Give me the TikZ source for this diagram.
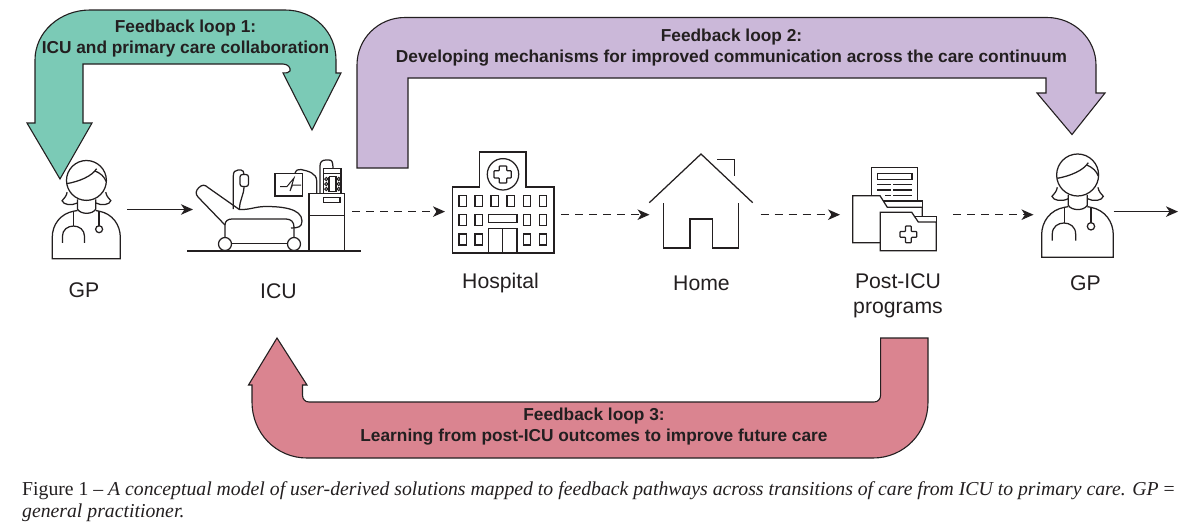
\documentclass[tikz,border=0pt]{standalone}
\usepackage{fontspec}
\setmainfont{Liberation Sans}
\newfontfamily\capfont{Liberation Serif}
\usetikzlibrary{arrows.meta}
\definecolor{ink}{HTML}{231F20}
\definecolor{loopgreen}{HTML}{7BCAB6}
\definecolor{looppurple}{HTML}{CBB8D9}
\definecolor{looppink}{HTML}{DA8490}
\tikzset{
  loopshape/.style={draw=ink,line width=1.1pt,line join=miter},
  icon/.style={draw=ink,line width=1.25pt,line join=miter},
  anchorbox/.style={inner sep=0pt,outer sep=0pt,minimum height=6pt},
  solidflow/.style={draw=ink,line width=1.2pt,-{Stealth[length=12pt,width=10.5pt,inset=3.5pt]}},
  dashflow/.style={solidflow,dash pattern=on 8pt off 6pt},
  looplabel/.style={font=\fontsize{17.3pt}{21pt}\selectfont\bfseries,text=ink,align=center,inner sep=0pt},
  place/.style={font=\fontsize{21.2pt}{25pt}\selectfont,text=ink,align=center,inner sep=0pt},
}
\newcommand{\gpicon}[3]{%
\begin{scope}[shift={(#1,#2)},x=#3*0.3333pt,y=-#3*0.3333pt]
  \draw[icon] (833,135) circle[radius=63];
  \draw[icon] (772,145) .. controls (810,138) and (850,122) .. (865,98);
  \draw[icon] (860,105) .. controls (878,112) and (890,124) .. (895,138);
  \draw[icon] (772,172) .. controls (770,185) and (762,192) .. (756,199) .. controls (760,212) and (785,216) .. (805,206);
  \draw[icon] (894,172) .. controls (896,185) and (904,192) .. (910,199) .. controls (906,212) and (881,216) .. (862,206);
  \draw[icon] (805,195) -- (805,226) .. controls (815,243) and (852,243) .. (862,226) -- (862,195);
  \draw[icon] (805,230) -- (793,232) .. controls (750,240) and (725,275) .. (725,315) -- (725,382) -- (940,382) -- (940,315) .. controls (940,275) and (915,240) .. (873,232) -- (862,230);
  \draw[icon] (793,232) -- (793,278);
  \draw[icon] (757,332) -- (757,312) .. controls (757,268) and (827,268) .. (827,312) -- (827,332);
  \draw[icon] (873,232) -- (873,278);
  \draw[icon] (873,289) circle[radius=11];
\end{scope}}
\begin{document}
\begin{tikzpicture}[x=1pt,y=-1pt]
\useasboundingbox (0,0) rectangle (1200,528);
% feedback loops
\path[loopshape,fill=loopgreen] (27,123) -- (60,179) -- (92,123) -- (83,123) -- (83,64) -- (283,64)
  .. controls (288,64) and (291,68) .. (290,71) .. controls (289,73) and (286,73) .. (283,73)
  -- (312,130) -- (341,73) -- (336,73) -- (336,60) .. controls (336,32) and (314,10) .. (285,10)
  -- (90,10) .. controls (60,10) and (35,32) .. (35,60) -- (35,123) -- cycle;
\path[loopshape,fill=looppurple] (357,168) -- (357,65) .. controls (357,39) and (378,17.5) .. (405,17.5)
  -- (1047,17.5) .. controls (1074,17.5) and (1096,39) .. (1096,65) -- (1096,93) -- (1105,93)
  -- (1072,134.5) -- (1037,93) -- (1046,93) -- (1046,78) -- (408,78) -- (408,168) -- cycle;
\path[loopshape,fill=looppink] (277,338) -- (307,385) -- (302.5,385) -- (302.5,395)
  .. controls (302.5,399) and (305,402) .. (309,402) -- (874,402) .. controls (878,402) and (880.6,399) .. (880.6,395)
  -- (880.6,338) -- (928,338) -- (928,402) .. controls (928,433) and (904,458) .. (873,458)
  -- (307,458) .. controls (276,458) and (252,433) .. (252,402) -- (252,385) -- (248.5,385) -- cycle;
\node[looplabel] (l1) at (185.5,38.5) {Feedback loop 1:\\ICU and primary care collaboration};
\node[looplabel] (l2) at (731.5,47.5) {Feedback loop 2:\\Developing mechanisms for improved communication across the care continuum};
\node[looplabel] (l3) at (594,427) {Feedback loop 3:\\Learning from post-ICU outcomes to improve future care};
% GP icons
\gpicon{-177.3}{137.7}{0.95}
\gpicon{800}{130}{1}
% ICU
\draw[icon] (187,251) -- (361,251);
\draw[icon] (225,244) circle[radius=6.5];
\draw[icon] (294,244) circle[radius=6.5];
\draw[icon] (231,243.5) -- (288,243.5);
\draw[icon] (225,237.5) -- (225,225) .. controls (225,221) and (228,219) .. (232,219) -- (286,219) .. controls (291,219) and (294,222) .. (294,227) -- (294,237.5);
\draw[icon] (225,225) -- (198,197) .. controls (195,194) and (196,190) .. (199,187.5) .. controls (202,184.5) and (205,184.5) .. (208,187.5) -- (239.3,209.5)
  .. controls (250,210) and (255,206.5) .. (266,206.5) .. controls (280,206.5) and (302,208) .. (302,221) .. controls (302,227) and (298,228) .. (291,228);
\draw[icon] (233.3,209) -- (233.3,176) .. controls (233.3,172) and (235,170) .. (238,170) -- (241,170) .. controls (243,170) and (244,172) .. (244,174.5);
\draw[icon,rounded corners=2.5pt] (240,174.5) rectangle (248.5,186.5);
\draw[icon] (244,186.5) .. controls (244,195) and (239.5,200) .. (239.5,209);
\draw[icon] (275,173.3) rectangle (302.7,196);
\draw[icon,line width=1pt] (280,186.5) -- (287,186.5) -- (294,178) -- (290,191) -- (292.5,185) -- (301,185);
\draw[icon] (295,173.3) .. controls (296,170) and (298,169) .. (301,169.5) .. controls (308,171) and (316.7,173) .. (316.7,181) -- (316.7,193.3);
\draw[icon] (309,193.3) rectangle (344.3,250.7);
\draw[icon] (309,215.7) -- (344.3,215.7);
\draw[icon] (323.5,197.7) rectangle (340,202.7);
\draw[icon] (323.7,168.3) rectangle (341,193.3);
\draw[icon] (323.7,173.3) -- (341,173.3);
\draw[icon] (320,193.3) -- (320,166) .. controls (320,162) and (322,160) .. (326,160) -- (329,160) .. controls (332,160) and (333,162) .. (333,168.3);
\draw[icon] (328.5,176.5) -- (336.5,176.5) (328.5,191.5) -- (336.5,191.5) (329,176.5) -- (329,191.5) (336,176.5) -- (336,191.5);
\foreach \yy in {179,184,189}{\draw[icon,line width=1pt] (326.3,\yy) circle[radius=1.6] (338.7,\yy) circle[radius=1.6];}
% hospital
\draw[icon] (452.3,253) -- (452.3,187) -- (479.3,187) -- (479.3,152) -- (526,152) -- (526,187) -- (554,187) -- (554,253) -- cycle;
\draw[icon] (503,174.3) circle[radius=15.7];
\draw[icon,rounded corners=.8pt] (499.3,166) -- (506.7,166) -- (506.7,170.7) -- (511.3,170.7) -- (511.3,178) -- (506.7,178) -- (506.7,183) -- (499.3,183) -- (499.3,178) -- (494,178) -- (494,170.7) -- (499.3,170.7) -- cycle;
\foreach \xx in {459,475,491,507,523.3,539.3}{\draw[icon] (\xx,195.7) rectangle +(7.5,11);}
\foreach \xx in {459,475,523.3,539.3}{\draw[icon] (\xx,214.7) rectangle +(7.5,11);\draw[icon] (\xx,234) rectangle +(7.5,11);}
\draw[icon] (488.3,214.7) rectangle (517,222.7);
\draw[icon] (488.7,253) -- (488.7,228.3) -- (517,228.3) -- (517,253);
\draw[icon] (502.7,228.3) -- (502.7,253);
% home
\draw[icon] (649.3,202.7) -- (701,154) -- (752.7,202.7);
\draw[icon] (717.3,159.3) -- (734.3,159.3) -- (734.3,176);
\draw[icon] (663.7,203.3) -- (663.7,248) -- (690,248) -- (690,219) -- (712.7,219) -- (712.7,248) -- (738.7,248) -- (738.7,203.3);
% post-ICU programs
\draw[icon] (871.7,195.7) -- (871.7,167.7) -- (917.3,167.7) -- (917.3,201);
\draw[icon] (877.3,173.7) rectangle (912,179.7);
\draw[icon] (877.3,184.3) -- (890.7,184.3) (893.3,184.3) -- (912,184.3);
\draw[icon] (877.3,190) -- (890.7,190) (893.3,190) -- (912,190);
\draw[icon] (885,195.7) -- (890.7,195.7) (893.3,195.7) -- (912,195.7);
\draw[icon] (880.3,242.7) -- (852.7,242.7) -- (852.7,195.7) -- (880,195.7) -- (887.3,207.3) -- (922.3,207.3) -- (922.3,216.7);
\draw[icon] (882.7,201) -- (922.3,201) -- (922.3,207.3);
\draw[icon] (880.3,250.7) -- (880.3,212.3) -- (911.7,212.3) -- (918.3,222) -- (936.3,222) -- (936.3,250.7) -- cycle;
\draw[icon] (915,216.7) -- (936.3,216.7) -- (936.3,222);
\draw[icon,rounded corners=.8pt] (905.5,226) -- (911.3,226) -- (911.3,231.5) -- (916.7,231.5) -- (916.7,237.3) -- (911.3,237.3) -- (911.3,242.8) -- (905.5,242.8) -- (905.5,237.3) -- (900,237.3) -- (900,231.5) -- (905.5,231.5) -- cycle;
% anchor nodes for the stations on the pathway
\node[anchorbox,minimum width=81pt] (gp1) at (86.5,209.5) {};
\node[anchorbox,minimum width=159pt] (icu) at (272.5,209.5) {};
\node[anchorbox,minimum width=116pt] (hospital) at (503,211.6) {};
\node[anchorbox,minimum width=111pt] (home) at (705,214.7) {};
\node[anchorbox,minimum width=113pt] (post) at (896.5,214.7) {};
\node[anchorbox,minimum width=80pt] (gp2) at (1073.5,214.7) {};
\coordinate (exit) at (1178,211.6);
\draw[solidflow] (gp1) -- (icu);
\draw[dashflow] (icu.east |- hospital.west) -- (hospital.west);
\draw[dashflow] (hospital.east |- home.west) -- (home.west);
\draw[dashflow] (home.east) -- (post.west);
\draw[dashflow] (post.east) -- (gp2.west);
\draw[solidflow] (gp2.east |- exit) -- (exit);
% labels
\node[place] (tgp1) at (84,290.5) {GP};
\node[place] (ticu) at (278.5,291) {ICU};
\node[place] (thosp) at (500.5,283) {Hospital};
\node[place] (thome) at (701.5,283) {Home};
\node[place] (tpost) at (898,295.5) {Post-ICU\\programs};
\node[place] (tgp2) at (1085.5,283) {GP};
% caption
\node[anchor=base west,inner sep=0pt,text=ink] (cap1) at (22,495.5) {\capfont\fontsize{19.73pt}{22pt}\selectfont Figure 1 – \textit{A conceptual model of user-derived solutions mapped to feedback pathways across transitions of care from ICU to primary care. GP} =};
\node[anchor=base west,inner sep=0pt,text=ink] (cap2) at (22,517.5) {\capfont\fontsize{19.73pt}{22pt}\selectfont\itshape general practitioner.};
\end{tikzpicture}
\end{document}
